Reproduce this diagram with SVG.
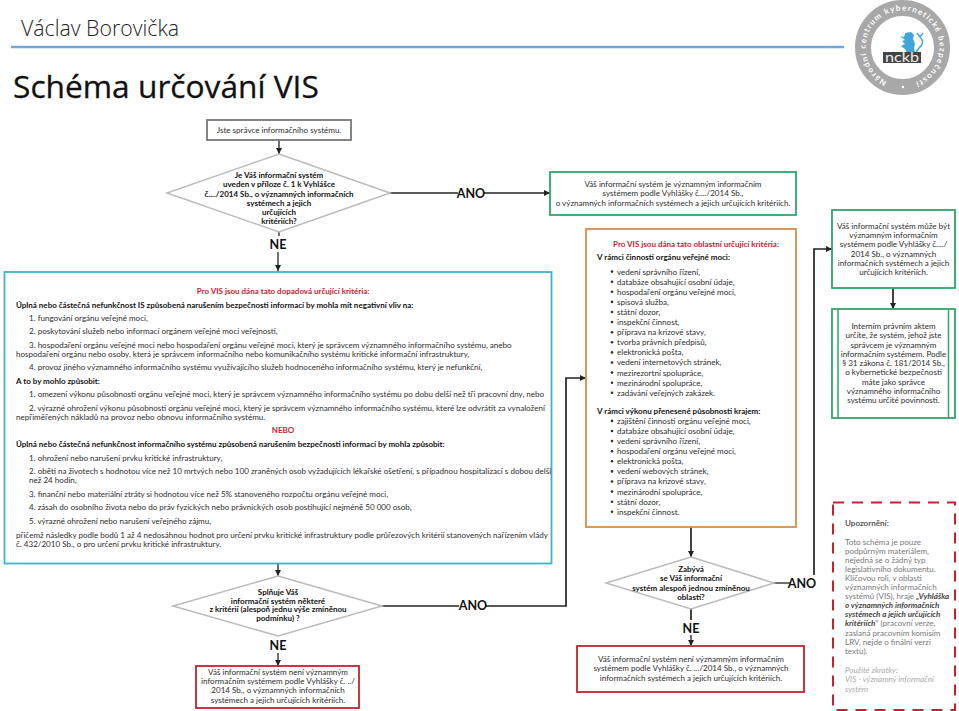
<svg xmlns="http://www.w3.org/2000/svg" width="959" height="711" viewBox="0 0 959 711">
<style>
text{font-family:"Lato","Noto Sans","Open Sans",sans-serif;font-size:8.05px;fill:#2c2c2c}
.c{text-anchor:middle}
.b{font-weight:700;font-size:8px;fill:#111}
.r{font-weight:700;font-size:8px;fill:#c8202f}
.big{font-weight:700;font-size:12.500px;fill:#111}
.g{fill:#777}
.bi{font-weight:700;font-style:italic;fill:#444}
.i{font-style:italic;fill:#aaa}
.box{fill:#fff;stroke-width:1.800}
.dia{fill:#fff;stroke:#bbb;stroke-width:1.500}
.ln{fill:none;stroke:#222;stroke-width:1.300}
.ar{fill:none;stroke:#222;stroke-width:1.300;marker-end:url(#a)}
.th{stroke-width:1.700}
</style>
<defs>
<marker id="a" markerUnits="userSpaceOnUse" markerWidth="7" markerHeight="7" refX="6" refY="3" orient="auto"><path d="M0 0L6 3L0 6z" fill="#222"/></marker>
<path id="ringp" d="M902.500 84.500A37 37 0 1 1 902.600 84.500"/>
</defs>
<g id="header">
<text x="21" y="36" style="font-family:'Open Sans',sans-serif;font-size:21.300px;font-weight:300;fill:#222">Václav Borovička</text>
<line x1="11" y1="47" x2="844" y2="47" stroke="#6fa8dc" stroke-width="2.500"/>
<text x="13" y="98" style="font-family:'Open Sans',sans-serif;font-size:31.700px;fill:#111;stroke:#111;stroke-width:.3px">Schéma určování VIS</text>
</g>
<g id="logo">
<circle cx="902.500" cy="47.500" r="39.500" fill="#fff" stroke="#a8a8a8" stroke-width="16"/>
<text style="font-size:8px;font-weight:700;fill:#fff;letter-spacing:1.250px"><textPath href="#ringp" startOffset="16">Národní centrum kybernetické bezpečnosti</textPath></text>
<circle cx="903" cy="87" r="1.200" fill="#fff"/>
<path d="M905 33l6-1 3 3-1 4 2 5-1 4 1 5-8 0-2-4-4-3 4-2-3-3 3-1-5-4 4 1 1-3z" fill="#3ea6dc"/>
<path d="M917 33l3 4 3-4M920 37c4 4 3 8-1 11l-3 4" fill="none" stroke="#3ea6dc" stroke-width="1.500"/>
<rect x="883" y="52" width="38" height="11" fill="#444"/>
<text x="902" y="61.500" class="c" textLength="34" lengthAdjust="spacingAndGlyphs" style="font-size:13px;fill:#eee">nckb</text>
</g>
<g id="connectors">
<path class="ar" d="M279 140V154"/>
<path class="ln" d="M390 193H458"/>
<path class="ar" d="M483 193H550"/>
<path class="ln" d="M279 232V236"/>
<path class="ar" d="M278 252V271"/>
<path class="ar" d="M278 564V576"/>
<path class="ln" d="M382 606H459"/>
<path class="ar th" d="M486 606H566V378H586"/>
<path class="ar" d="M278 653V666"/>
<path class="ar th" d="M691 527V557"/>
<path class="ln" d="M774 583H790"/>
<path class="ar th" d="M814 575V249H832"/>
<path class="ar th" d="M893 288V309"/>
<path class="ln th" d="M691 609V620"/>
<path class="ar" d="M691 635V646"/>
</g>
<g id="start"><rect class="box" x="207" y="120" width="144" height="20" stroke="#777"/><text class="c" x="279" y="133">Jste správce informačního systému.</text></g>
<g id="d1"><path class="dia" d="M279 154L390 193L279 232L167 193z"/>
<text class="c b" x="279" y="178">Je Váš informační systém</text><text class="c b" x="279" y="187">uveden v příloze č. 1 k Vyhlášce</text><text class="c b" x="279" y="196.500">č..../2014 Sb., o významných informačních</text><text class="c b" x="279" y="205.500">systémech a jejich</text><text class="c b" x="279" y="215">určujících</text><text class="c b" x="279" y="224">kritériích?</text></g>
<text class="big c" x="278" y="249">NE</text>
<text class="big c" x="471" y="198">ANO</text>
<g id="vis1"><rect class="box" x="550" y="172" width="246" height="43" stroke="#2ea66a"/>
<text class="c" x="673" y="187">Váš informační systém je významným informačním</text><text class="c" x="673" y="196">systémem podle Vyhlášky č..../2014 Sb.,</text><text class="c" x="673" y="205.500">o významných informačních systémech a jejich určujících kritériích.</text></g>
<g id="impact"><rect class="box" x="4.500" y="272" width="547" height="291.500" stroke="#3bb3d0"/>
<text class="c r" x="283" y="294">Pro VIS jsou dána tato dopadová určující kritéria:</text>
<text class="b" x="16" y="307.500">Úplná nebo částečná nefunkčnost IS způsobená narušením bezpečnosti informací by mohla mít negativní vliv na:</text>
<text x="29" y="321">1. fungování orgánu veřejné moci,</text>
<text x="29" y="334">2. poskytování služeb nebo informací orgánem veřejné moci veřejnosti,</text>
<text x="29" y="348">3. hospodaření orgánu veřejné moci nebo hospodaření orgánu veřejné moci, který je správcem významného informačního systému, anebo</text>
<text x="16" y="357">hospodaření orgánu nebo osoby, která je správcem informačního nebo komunikačního systému kritické informační infrastruktury,</text>
<text x="29" y="370">4. provoz jiného významného informačního systému využívajícího služeb hodnoceného informačního systému, který je nefunkční,</text>
<text class="b" x="16" y="384">A to by mohlo způsobit:</text>
<text x="29" y="397">1. omezení výkonu působnosti orgánu veřejné moci, který je správcem významného informačního systému po dobu delší než tři pracovní dny, nebo</text>
<text x="29" y="410.500">2. výrazné ohrožení výkonu působnosti orgánu veřejné moci, který je správcem významného informačního systému, které lze odvrátit za vynaložení</text>
<text x="16" y="420">nepřiměřených nákladů na provoz nebo obnovu informačního systému.</text>
<text class="c r" x="283" y="433">NEBO</text>
<text class="b" x="16" y="447">Úplná nebo částečná nefunkčnost informačního systému způsobená narušením bezpečnosti informací by mohla způsobit:</text>
<text x="29" y="461">1. ohrožení nebo narušení prvku kritické infrastruktury,</text>
<text x="29" y="474">2. oběti na životech s hodnotou více než 10 mrtvých nebo 100 zraněných osob vyžadujících lékařské ošetření, s případnou hospitalizací s dobou delší</text>
<text x="29" y="483">než 24 hodin,</text>
<text x="29" y="497">3. finanční nebo materiální ztráty si hodnotou více než 5% stanoveného rozpočtu orgánu veřejné moci,</text>
<text x="29" y="510">4. zásah do osobního života nebo do práv fyzických nebo právnických osob postihující nejméně 50 000 osob,</text>
<text x="29" y="524">5. výrazné ohrožení nebo narušení veřejného zájmu,</text>
<text x="16" y="538">přičemž následky podle bodů 1 až 4 nedosáhnou hodnot pro určení prvku kritické infrastruktury podle průřezových kritérií stanovených nařízením vlády</text>
<text x="16" y="547">č. 432/2010 Sb., o pro určení prvku kritické infrastruktury.</text>
</g>
<g id="area"><rect class="box" x="586" y="229" width="210" height="298" stroke="#d98e4a"/>
<text class="c r" x="696" y="247">Pro VIS jsou dána tato oblastní určující kritéria:</text>
<text class="b" x="597" y="260">V rámci činnosti orgánu veřejné moci:</text>
<text x="617" y="274.500">vedení správního řízení,</text><text x="617" y="284.600">databáze obsahující osobní údaje,</text><text x="617" y="294.700">hospodaření orgánu veřejné moci,</text><text x="617" y="304.800">spisová služba,</text><text x="617" y="314.900">státní dozor,</text><text x="617" y="325">inspekční činnost,</text><text x="617" y="335.100">příprava na krizové stavy,</text><text x="617" y="345.200">tvorba právních předpisů,</text><text x="617" y="355.300">elektronická pošta,</text><text x="617" y="365.400">vedení internetových stránek,</text><text x="617" y="375.500">mezirezortní spolupráce,</text><text x="617" y="385.600">mezinárodní spolupráce,</text><text x="617" y="395.700">zadávání veřejných zakázek.</text>
<text class="b" x="597" y="414">V rámci výkonu přenesené působnosti krajem:</text>
<text x="617" y="423.800">zajištění činnosti orgánu veřejné moci,</text><text x="617" y="433.900">databáze obsahující osobní údaje,</text><text x="617" y="444">vedení správního řízení,</text><text x="617" y="454.100">hospodaření orgánu veřejné moci,</text><text x="617" y="464.200">elektronická pošta,</text><text x="617" y="474.300">vedení webových stránek,</text><text x="617" y="484.400">příprava na krizové stavy,</text><text x="617" y="494.500">mezinárodní spolupráce,</text><text x="617" y="504.600">státní dozor,</text><text x="617" y="514.700">inspekční činnost.</text>
<g fill="#333"><circle cx="612" cy="271.600" r="1.300"/><circle cx="612" cy="281.700" r="1.300"/><circle cx="612" cy="291.800" r="1.300"/><circle cx="612" cy="301.900" r="1.300"/><circle cx="612" cy="312" r="1.300"/><circle cx="612" cy="322.100" r="1.300"/><circle cx="612" cy="332.200" r="1.300"/><circle cx="612" cy="342.300" r="1.300"/><circle cx="612" cy="352.400" r="1.300"/><circle cx="612" cy="362.500" r="1.300"/><circle cx="612" cy="372.600" r="1.300"/><circle cx="612" cy="382.700" r="1.300"/><circle cx="612" cy="392.800" r="1.300"/><circle cx="612" cy="420.900" r="1.300"/><circle cx="612" cy="431" r="1.300"/><circle cx="612" cy="441.100" r="1.300"/><circle cx="612" cy="451.200" r="1.300"/><circle cx="612" cy="461.300" r="1.300"/><circle cx="612" cy="471.400" r="1.300"/><circle cx="612" cy="481.500" r="1.300"/><circle cx="612" cy="491.600" r="1.300"/><circle cx="612" cy="501.700" r="1.300"/><circle cx="612" cy="511.800" r="1.300"/></g></g>
<g id="may"><rect class="box" x="832" y="210" width="123" height="78" stroke="#2ea66a"/>
<text class="c" x="893.500" y="229">Váš informační systém může být</text><text class="c" x="893.500" y="238">významným informačním</text><text class="c" x="893.500" y="247">systémem podle Vyhlášky č..../</text><text class="c" x="893.500" y="256.500">2014 Sb., o významných</text><text class="c" x="893.500" y="265.500">informačních systémech a jejich</text><text class="c" x="893.500" y="275">určujících kritériích.</text></g>
<g id="internal"><rect class="box" x="832" y="309" width="123" height="109" stroke="#2ea66a"/><path d="M838 309V418M948.500 309V418" stroke="#2ea66a" stroke-width="1.500"/>
<text class="c" x="893.500" y="329">Interním právním aktem</text><text class="c" x="893.500" y="338">určíte, že systém, jehož jste</text><text class="c" x="893.500" y="347.500">správcem je významným</text><text class="c" x="893.500" y="357">informačním systémem. Podle</text><text class="c" x="893.500" y="366">§ 31 zákona č. 181/2014 Sb.,</text><text class="c" x="893.500" y="375">o kybernetické bezpečnosti</text><text class="c" x="893.500" y="384.500">máte jako správce</text><text class="c" x="893.500" y="394">významného informačního</text><text class="c" x="893.500" y="403">systému určité povinnosti.</text></g>
<g id="d2"><path class="dia" d="M278 576L382 606L278 636L173 606z"/>
<text class="c b" x="278" y="595">Splňuje Váš</text><text class="c b" x="278" y="603.500">informační systém některé</text><text class="c b" x="278" y="612">z kritérií (alespoň jednu výše zmíněnou</text><text class="c b" x="278" y="621">podmínku) ?</text></g>
<text class="big c" x="278" y="650">NE</text>
<text class="big c" x="473" y="610">ANO</text>
<g id="no1"><rect class="box" x="196" y="666" width="163" height="42" stroke="#c8202f"/>
<text class="c" x="278" y="675">Váš informační systém není významným</text><text class="c" x="278" y="684">informačním systémem podle Vyhlášky č. ../</text><text class="c" x="278" y="693">2014 Sb., o významných informačních</text><text class="c" x="278" y="703">systémech a jejich určujících kritériích.</text></g>
<g id="d3"><path class="dia" d="M691 557L774 583L691 609L606 583z"/>
<text class="c b" x="691" y="572">Zabývá</text><text class="c b" x="691" y="581">se Váš informační</text><text class="c b" x="691" y="591">systém alespoň jednou zmíněnou</text><text class="c b" x="691" y="600">oblastí?</text></g>
<text class="big c" x="691" y="633">NE</text>
<text class="big c" x="802" y="588">ANO</text>
<g id="no2"><rect class="box" x="577" y="646" width="227" height="46" stroke="#c8202f"/>
<text class="c" x="691" y="662">Váš informační systém není významným informačním</text><text class="c" x="691" y="671">systémem podle Vyhlášky č. .../2014 Sb., o významných</text><text class="c" x="691" y="680.500">informačních systémech a jejich určujících kritériích.</text></g>
<g id="note"><rect x="833" y="502.500" width="122" height="207.500" fill="#fff" stroke="#c8202f" stroke-width="2" stroke-dasharray="11 8"/>
<text x="845" y="526" style="font-weight:700;fill:#555">Upozornění:</text>
<text class="g" x="845" y="544.500">Toto schéma je pouze</text><text class="g" x="845" y="553.600">podpůrným materiálem,</text><text class="g" x="845" y="562.700">nejedná se o žádný typ</text><text class="g" x="845" y="571.800">legislativního dokumentu.</text><text class="g" x="845" y="580.900">Klíčovou roli, v oblasti</text><text class="g" x="845" y="590">významných informačních</text><text class="g" x="845" y="599">systémů (VIS), hraje <tspan class="bi">„Vyhláška</tspan></text><text class="bi" x="845" y="608.200">o významných informačních</text><text class="bi" x="845" y="617.300">systémech a jejich určujících</text><text class="g" x="845" y="626.400"><tspan class="bi">kritériích</tspan>“ (pracovní verze,</text><text class="g" x="845" y="635.500">zaslaná pracovním komisím</text><text class="g" x="845" y="644.600">LRV, nejde o finální verzi</text><text class="g" x="845" y="653.700">textu).</text>
<text class="i" x="845" y="673">Použité zkratky:</text><text class="i" x="845" y="682">VIS - významný informační</text><text class="i" x="845" y="692">systém</text></g>
</svg>
